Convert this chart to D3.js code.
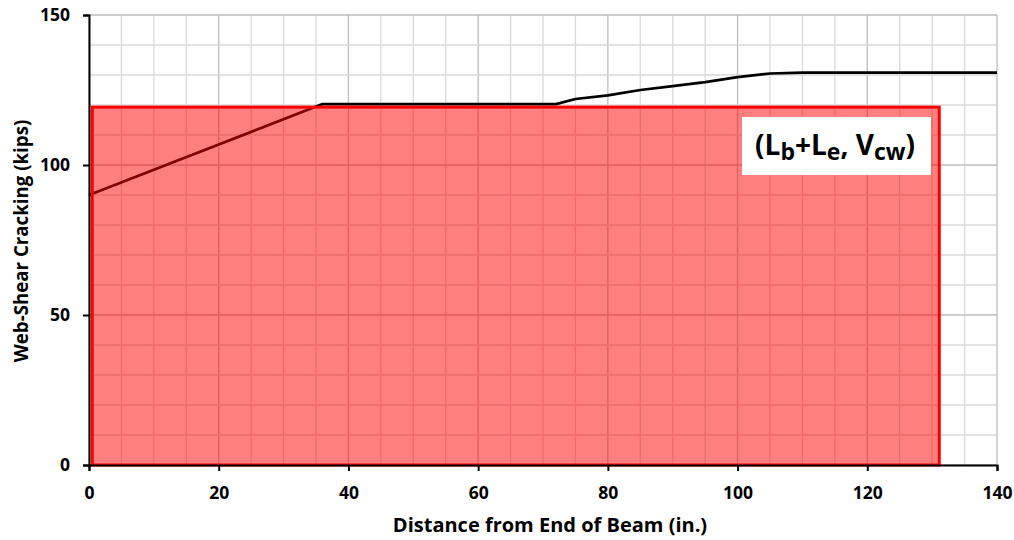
<!DOCTYPE html>
<html>
<head>
<meta charset="utf-8">
<script src="https://cdn.jsdelivr.net/npm/d3@7"></script>
<style>
  html, body { margin: 0; padding: 0; background: #fff; }
  svg { display: block; }
  text { font-family: "Open Sans", "DejaVu Sans", sans-serif; font-weight: bold; fill: #000; }
</style>
</head>
<body>
<svg id="chart" width="1014" height="540"></svg>
<script>
// Web-shear cracking capacity along the beam
const distance = [0, 36, 72, 75, 80, 85, 90, 95, 100, 105, 110, 120, 130, 140];
const shear    = [90, 120.3, 120.3, 122, 123.2, 125, 126.3, 127.6, 129.3, 130.5, 130.8, 130.8, 130.8, 130.8];

// Region bounded by (Lb+Le, Vcw)
const regionX = [0.5, 131.1];
const regionY = [0, 119.3];

const xTicks = [0, 20, 40, 60, 80, 100, 120, 140];
const yTicks = [0, 50, 100, 150];
const xGrid = d3.range(0, 141, 5);
const yGrid = d3.range(0, 151, 10);

const margin = { left: 89, right: 17, top: 15, bottom: 75 };
const W = 1014, H = 540;
const svg = d3.select("#chart");

const x = d3.scaleLinear().domain([0, 140]).range([margin.left, W - margin.right]);
const y = d3.scaleLinear().domain([0, 150]).range([H - margin.bottom, margin.top]);

// Grid
const grid = svg.append("g");
grid.selectAll("line.vx").data(xGrid).join("line")
  .attr("x1", d => x(d)).attr("x2", d => x(d))
  .attr("y1", y(0)).attr("y2", y(150))
  .attr("stroke", d => d % 20 === 0 ? "#bdbdbd" : "#d9d9d9")
  .attr("stroke-width", 1.3);
grid.selectAll("line.hy").data(yGrid).join("line")
  .attr("y1", d => y(d)).attr("y2", d => y(d))
  .attr("x1", x(0)).attr("x2", x(140))
  .attr("stroke", d => d % 50 === 0 ? "#bdbdbd" : "#d9d9d9")
  .attr("stroke-width", 1.3);

// Capacity curve
const line = d3.line().x((d, i) => x(distance[i])).y(d => y(d));
svg.append("path")
  .attr("d", line(shear))
  .attr("fill", "none")
  .attr("stroke", "#000")
  .attr("stroke-width", 2.7)
  .attr("stroke-linejoin", "round");

// Translucent region
svg.append("rect")
  .attr("x", x(regionX[0]))
  .attr("y", y(regionY[1]))
  .attr("width", x(regionX[1]) - x(regionX[0]))
  .attr("height", y(regionY[0]) - y(regionY[1]))
  .attr("fill", "rgba(255,0,0,0.5)")
  .attr("stroke", "#ff0000")
  .attr("stroke-width", 3);

// Axes
const xAxis = svg.append("g")
  .attr("transform", `translate(0,${y(0)})`)
  .call(d3.axisBottom(x).tickValues(xTicks).tickSize(6).tickPadding(16));
const yAxis = svg.append("g")
  .attr("transform", `translate(${x(0)},0)`)
  .call(d3.axisLeft(y).tickValues(yTicks).tickSize(6).tickPadding(13));
[xAxis, yAxis].forEach(g => {
  g.select(".domain").attr("stroke", "#000").attr("stroke-width", 2);
  g.selectAll(".tick line").attr("stroke", "#000").attr("stroke-width", 2);
  g.selectAll(".tick text")
    .attr("font-family", "'Open Sans', sans-serif")
    .attr("font-weight", "bold")
    .attr("font-size", 17.5)
    .attr("fill", "#000");
});

// Axis titles
svg.append("text")
  .attr("x", 550)
  .attr("y", 532)
  .attr("text-anchor", "middle")
  .attr("font-size", 20)
  .text("Distance from End of Beam (in.)");
svg.append("text")
  .attr("transform", `translate(28,241) rotate(-90)`)
  .attr("text-anchor", "middle")
  .attr("font-size", 18.7)
  .text("Web-Shear Cracking (kips)");

// Annotation box
const box = svg.append("g");
box.append("rect")
  .attr("x", 742).attr("y", 117)
  .attr("width", 189).attr("height", 58)
  .attr("fill", "#fff");
const label = box.append("text")
  .attr("x", 835).attr("y", 155)
  .attr("text-anchor", "middle")
  .attr("font-size", 28);
label.append("tspan").text("(L");
label.append("tspan").attr("font-size", 23).attr("dy", 5).text("b");
label.append("tspan").attr("dy", -5).text("+L");
label.append("tspan").attr("font-size", 23).attr("dy", 5).text("e");
label.append("tspan").attr("dy", -5).text(", V");
label.append("tspan").attr("font-size", 23).attr("dy", 5).text("cw");
label.append("tspan").attr("dy", -5).text(")");
</script>
</body>
</html>
